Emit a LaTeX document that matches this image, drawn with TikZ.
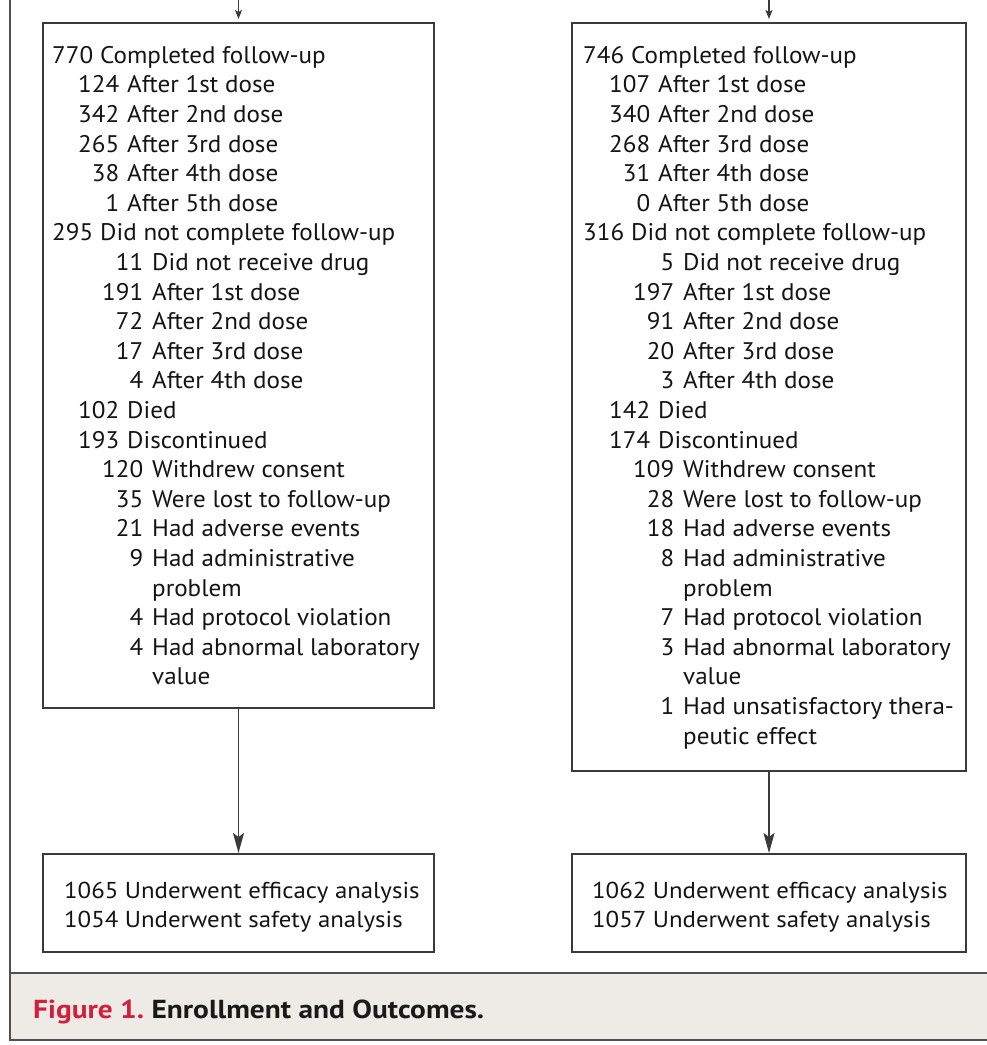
\documentclass[tikz,border=0pt]{standalone}
\usepackage{fontspec}
\setmainfont{PT Sans}
\newfontfamily\listfont[FakeStretch=1.045]{PT Sans}
\newfontfamily\resfont[FakeStretch=1.08]{PT Sans}
\newfontfamily\capfont[FakeStretch=1.13]{PT Sans}
\usetikzlibrary{arrows.meta}
\definecolor{framegray}{HTML}{505050}
\definecolor{boxgray}{HTML}{3A3A3A}
\definecolor{capbg}{HTML}{EEEAE5}
\definecolor{capred}{HTML}{D11F3C}
\newcommand\rowA[2]{\makebox[47pt][r]{#1\hspace{7pt}}#2}
\newcommand\rowB[2]{\makebox[74pt][r]{#1\hspace{8pt}}#2}
\newcommand\rowC[2]{\makebox[99pt][r]{#1\hspace{9pt}}#2}
\newcommand\rowCc[1]{\hspace*{99pt}#1}
\tikzset{
  boxst/.style={draw=boxgray, line width=2pt, fill=white, inner sep=0pt, anchor=north west},
  listtxt/.style={anchor=north west, inner sep=0pt, align=left, text=black!92,
    font=\listfont\fontsize{24}{29.6}\selectfont},
  restxt/.style={anchor=north west, inner sep=0pt, align=left, text=black!92,
    font=\resfont\fontsize{23}{29}\selectfont},
  flowarrow/.style={draw=boxgray, line width=1.8pt, -{Stealth[length=20pt,width=11pt,inset=4pt]}},
  toparrow/.style={draw=boxgray, line width=1.5pt, -{Stealth[length=9pt,width=7pt,inset=2pt]}, shorten >=3pt},
  frameline/.style={draw=framegray, line width=2pt},
}
\begin{document}
\begin{tikzpicture}[x=1pt,y=-1pt]
\useasboundingbox (0,0) rectangle (987,1045);
\fill[white] (0,0) rectangle (987,1045);
% caption band
\fill[capbg] (9.5,973) rectangle (987,1040);
\draw[frameline] (9.5,0) -- (9.5,1040) -- (988,1040);
\draw[frameline] (9.5,973) -- (988,973);

% boxes
\node[boxst, minimum width=391pt, minimum height=685pt] (Lbox) at (42,22) {};
\node[boxst, minimum width=394pt, minimum height=748pt] (Rbox) at (571,22) {};
\node[boxst, minimum width=391pt, minimum height=98pt] (Lres) at (42,853) {};
\node[boxst, minimum width=394pt, minimum height=98pt] (Rres) at (571,853) {};

% texts
\node[listtxt] (Ltxt) at (53,42.3) {\strut\rowA{770}{Completed follow-up}\\
\rowB{124}{After 1st dose}\\
\rowB{342}{After 2nd dose}\\
\rowB{265}{After 3rd dose}\\
\rowB{38}{After 4th dose}\\
\rowB{1}{After 5th dose}\\
\rowA{295}{Did not complete follow-up}\\
\rowC{11}{Did not receive drug}\\
\rowC{191}{After 1st dose}\\
\rowC{72}{After 2nd dose}\\
\rowC{17}{After 3rd dose}\\
\rowC{4}{After 4th dose}\\
\rowB{102}{Died}\\
\rowB{193}{Discontinued}\\
\rowC{120}{Withdrew consent}\\
\rowC{35}{Were lost to follow-up}\\
\rowC{21}{Had adverse events}\\
\rowC{9}{Had administrative}\\
\rowCc{problem}\\
\rowC{4}{Had protocol violation}\\
\rowC{4}{Had abnormal laboratory}\\
\rowCc{value}};

\node[listtxt] (Rtxt) at (584,42.3) {\strut\rowA{746}{Completed follow-up}\\
\rowB{107}{After 1st dose}\\
\rowB{340}{After 2nd dose}\\
\rowB{268}{After 3rd dose}\\
\rowB{31}{After 4th dose}\\
\rowB{0}{After 5th dose}\\
\rowA{316}{Did not complete follow-up}\\
\rowC{5}{Did not receive drug}\\
\rowC{197}{After 1st dose}\\
\rowC{91}{After 2nd dose}\\
\rowC{20}{After 3rd dose}\\
\rowC{3}{After 4th dose}\\
\rowB{142}{Died}\\
\rowB{174}{Discontinued}\\
\rowC{109}{Withdrew consent}\\
\rowC{28}{Were lost to follow-up}\\
\rowC{18}{Had adverse events}\\
\rowC{8}{Had administrative}\\
\rowCc{problem}\\
\rowC{7}{Had protocol violation}\\
\rowC{3}{Had abnormal laboratory}\\
\rowCc{value}\\
\rowC{1}{Had unsatisfactory thera-}\\
\rowCc{peutic effect}};

\node[restxt] (Lrestxt) at (64,877.7) {\strut 1065 Underwent efficacy analysis\\1054 Underwent safety analysis};
\node[restxt] (Rrestxt) at (592,877.7) {\strut 1062 Underwent efficacy analysis\\1057 Underwent safety analysis};

% arrows
\coordinate (Ltop) at (Lbox.north |- 0,0);
\coordinate (Rtop) at (Rbox.north |- 0,0);
\draw[toparrow] (Ltop) -- (Lbox.north);
\draw[toparrow] (Rtop) -- (Rbox.north);
\draw[flowarrow] (Lbox.south) -- (Lres.north);
\draw[flowarrow] (Rbox.south) -- (Rres.north);

% caption
\node[anchor=base west, inner sep=0pt, font=\capfont\fontsize{26}{30}\selectfont\bfseries] (cap) at (33,1018)
  {\textcolor{capred}{Figure 1.}\ \textcolor{black!90}{Enrollment and Outcomes.}};
\end{tikzpicture}
\end{document}
